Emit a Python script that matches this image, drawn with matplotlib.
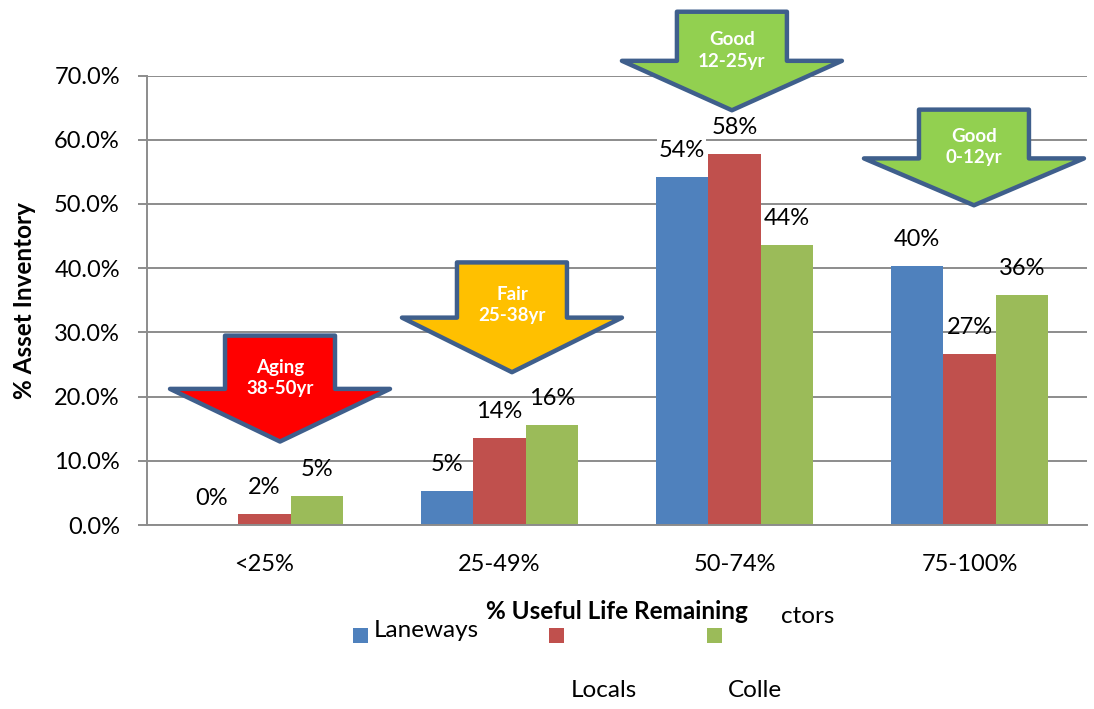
import matplotlib
matplotlib.use("Agg")
import matplotlib.pyplot as plt
from matplotlib.patches import Polygon, Rectangle

plt.rcParams['font.family'] = ['Lato', 'DejaVu Sans']

# --- data ---
categories = ["<25%", "25-49%", "50-74%", "75-100%"]
laneways = [0.0, 5.3, 54.2, 40.3]
locals_ = [1.7, 13.55, 57.8, 26.6]
collectors = [4.55, 15.6, 43.6, 35.9]

series = [laneways, locals_, collectors]
colors = ["#4F81BD", "#C0504D", "#9BBB59"]

# condition arrows (x in category units, y in %)
arrow_text = ["Aging\n38-50yr", "Fair\n25-38yr", "Good\n12-25yr", "Good\n0-12yr"]
arrow_fill = ["#FF0000", "#FFC000", "#92D050", "#92D050"]
arrow_x = [0.066, 1.053, 1.989, 3.019]
arrow_top = [29.5, 40.9, 79.95, 64.7]
arrow_neck = [21.2, 32.3, 72.3, 57.1]
arrow_tip = [13.0, 23.8, 64.6, 49.8]
arrow_text_y = [22.85, 34.3, 73.9, 58.85]

W, H = 1094, 709
fig = plt.figure(figsize=(W / 100, H / 100), dpi=100)
ax = fig.add_axes([147 / W, 1 - 525 / H, (1087 - 147) / W, (525 - 75.6) / H])

grid_col = "#8C8C8C"
bw = 0.224
for i, vals in enumerate(series):
    xs = [k + (i - 1) * bw for k in range(len(categories))]
    ax.bar(xs, vals, width=bw, color=colors[i], zorder=2)
    for x, v in zip(xs, vals):
        box = dict(facecolor="white", edgecolor="none", pad=1) if v > 50 else None
        ax.annotate("{:.0f}%".format(v), (x, v), xytext=(0, 19), textcoords="offset points",
                    ha="center", va="center", fontsize=17, zorder=3, bbox=box)

ax.set_xlim(-0.5, 3.5)
ax.set_ylim(0, 70)
ax.set_yticks(range(0, 71, 10))
ax.set_yticklabels(["{:.1f}%".format(t) for t in range(0, 71, 10)], fontsize=17)
ax.set_xticks(range(len(categories)))
ax.set_xticklabels(categories, fontsize=17)
ax.tick_params(axis="y", length=6.5, width=1.4, color=grid_col, pad=13)
ax.tick_params(axis="x", length=0, pad=21)
ax.yaxis.grid(True, color=grid_col, linewidth=1.4, zorder=0)
ax.set_axisbelow(True)
for s in ["top", "right"]:
    ax.spines[s].set_visible(False)
for s in ["left", "bottom"]:
    ax.spines[s].set_color(grid_col)
    ax.spines[s].set_linewidth(1.4)

# arrows
sw, ww = 0.234, 0.468
for cx, top, neck, tip, txt, fc, ty in zip(arrow_x, arrow_top, arrow_neck, arrow_tip,
                                           arrow_text, arrow_fill, arrow_text_y):
    pts = [(cx - sw, top), (cx + sw, top), (cx + sw, neck), (cx + ww, neck),
           (cx, tip), (cx - ww, neck), (cx - sw, neck)]
    ax.add_patch(Polygon(pts, closed=True, facecolor=fc, edgecolor="#3F5F8C",
                         linewidth=3.2, joinstyle="round", clip_on=False, zorder=4))
    ax.text(cx, ty, txt, ha="center", va="center", color="white", fontsize=13.5,
            fontweight="bold", linespacing=1.3, zorder=5, clip_on=False)

# axis titles
fig.text(25 / W, 1 - 301 / H, "% Asset Inventory", rotation=90, ha="center", va="center",
         fontsize=17.5, fontweight="bold")
fig.text(617 / W, 1 - 619 / H, "% Useful Life Remaining", ha="center", va="baseline",
         fontsize=17.5, fontweight="bold")

# legend (as it appears, with its broken labels)
for x0, c in zip([353, 549, 707], colors):
    fig.add_artist(Rectangle((x0 / W, 1 - 643 / H), 15 / W, 15 / H, transform=fig.transFigure,
                             facecolor=c, edgecolor="none"))
fig.text(374 / W, 1 - 637 / H, "Laneways", ha="left", va="baseline", fontsize=17.5)
fig.text(781 / W, 1 - 623 / H, "ctors", ha="left", va="baseline", fontsize=17.5)
fig.text(571 / W, 1 - 697 / H, "Locals", ha="left", va="baseline", fontsize=17.5)
fig.text(728 / W, 1 - 697 / H, "Colle", ha="left", va="baseline", fontsize=17.5)

fig.savefig("out.png", dpi=100)
